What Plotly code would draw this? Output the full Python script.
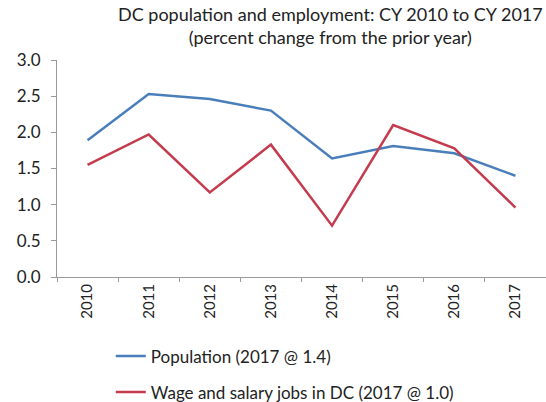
import plotly.graph_objects as go

years = ["2010", "2011", "2012", "2013", "2014", "2015", "2016", "2017"]
population = [1.89, 2.53, 2.46, 2.30, 1.64, 1.81, 1.71, 1.40]
wage_jobs = [1.55, 1.97, 1.17, 1.83, 0.71, 2.10, 1.78, 0.96]

pop_name = f"Population (2017 @ {population[-1]:.1f})"
jobs_name = f"Wage and salary jobs in DC (2017 @ {wage_jobs[-1]:.1f})"
title_lines = ["DC population and employment: CY 2010 to CY 2017",
               "(percent change from the prior year)"]

FONT = "Lato"
TEXT = "#222222"
AXIS = "#9a9a9a"

fig = go.Figure()
fig.add_trace(go.Scatter(x=years, y=population, mode="lines", name=pop_name,
                         legendgroup="a", line=dict(color="#4a7ebb", width=2.5)))
fig.add_trace(go.Scatter(x=years, y=wage_jobs, mode="lines", name=jobs_name,
                         legendgroup="b", line=dict(color="#c43b4e", width=2.5)))

# two-line heading centred over the plot
fig.add_annotation(text="<br>".join(title_lines), xref="paper", yref="paper",
                   x=(330 - 57) / 489, y=1.16, xanchor="center", yanchor="middle",
                   align="center", showarrow=False,
                   font=dict(family=FONT, size=18, color=TEXT))

fig.update_layout(
    width=546, height=402,
    margin=dict(l=57, r=0, t=60, b=125, autoexpand=False),
    paper_bgcolor="white", plot_bgcolor="white",
    font=dict(family=FONT, size=15, color=TEXT),
    showlegend=True,
    legend=dict(x=0.11, y=-0.283, xanchor="left", yanchor="top",
                orientation="v", tracegroupgap=11,
                font=dict(family=FONT, size=17, color=TEXT), bgcolor="rgba(0,0,0,0)"),
    xaxis=dict(
        type="category", range=[-0.5, 7.5], tickangle=-90,
        showline=True, linecolor=AXIS, linewidth=1,
        ticks="outside", tickson="boundaries", ticklen=4, tickcolor=AXIS,
        showgrid=False, zeroline=False,
        tickfont=dict(family=FONT, size=15, color=TEXT),
    ),
    yaxis=dict(
        range=[0, 3], dtick=0.5, tickformat=".1f",
        showline=True, linecolor=AXIS, linewidth=1,
        ticks="outside", ticklen=5, tickcolor=AXIS, ticklabelstandoff=7,
        showgrid=False, zeroline=False,
        tickfont=dict(family=FONT, size=17, color=TEXT),
    ),
)

fig.write_html("out.html")
